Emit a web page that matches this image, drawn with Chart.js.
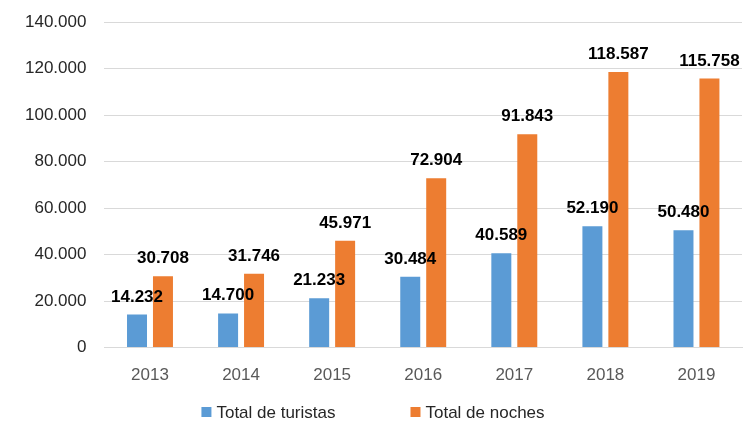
<!DOCTYPE html>
<html>
<head>
<meta charset="utf-8">
<script src="https://cdn.jsdelivr.net/npm/chart.js@4.4.1/dist/chart.umd.min.js"></script>
<style>
  html, body { margin: 0; padding: 0; background: #fff; }
  #wrap { width: 746px; height: 422px; }
</style>
</head>
<body>
<div id="wrap"><canvas id="turismo"></canvas></div>
<script>
var years = ['2013', '2014', '2015', '2016', '2017', '2018', '2019'];
var turistas = [14232, 14700, 21233, 30484, 40589, 52190, 50480];
var noches = [30708, 31746, 45971, 72904, 91843, 118587, 115758];
var seriesNames = ['Total de turistas', 'Total de noches'];
var colores = ['#5B9BD5', '#ED7D31'];

var fuente = '"Liberation Sans", Arial, sans-serif';

function miles(v) {
    return String(Math.round(v)).replace(/\B(?=(\d{3})+(?!\d))/g, '.');
}

// etiquetas encima de cada barra
var etiquetas = {
    id: 'etiquetas',
    afterDatasetsDraw: function(chart) {
        var ctx = chart.ctx;
        ctx.save();
        ctx.font = 'bold 17px ' + fuente;
        ctx.fillStyle = '#000';
        ctx.textAlign = 'center';
        ctx.textBaseline = 'alphabetic';
        chart.data.datasets.forEach(function(ds, i) {
            chart.getDatasetMeta(i).data.forEach(function(bar, j) {
                ctx.fillText(miles(ds.data[j]), bar.x, bar.y - 13);
            });
        });
        ctx.restore();
    }
};

// leyenda abajo, con mas separacion entre series
var leyenda = {
    id: 'leyenda',
    afterDraw: function(chart) {
        var ctx = chart.ctx;
        var gap = 75, caja = 10, sep = 5;
        ctx.save();
        ctx.font = '17px ' + fuente;
        ctx.textBaseline = 'middle';
        ctx.textAlign = 'left';
        var anchos = chart.data.datasets.map(function(ds) {
            return caja + sep + ctx.measureText(ds.label).width;
        });
        var total = anchos.reduce(function(a, b) { return a + b; }, 0) + gap * (anchos.length - 1);
        var x = (chart.width - total) / 2;
        var y = 412;
        chart.data.datasets.forEach(function(ds, i) {
            ctx.fillStyle = ds.backgroundColor;
            ctx.fillRect(x, y - caja / 2, caja, caja);
            ctx.fillStyle = '#262626';
            ctx.fillText(ds.label, x + caja + sep, y + 1);
            x += anchos[i] + gap;
        });
        ctx.restore();
    }
};

var ctx = document.getElementById('turismo');
var grafico = new Chart(ctx, {
    type: 'bar',
    data: {
        labels: years,
        datasets: [{
            label: seriesNames[0],
            data: turistas,
            backgroundColor: colores[0],
            categoryPercentage: 0.57,
            barPercentage: 0.77
        }, {
            label: seriesNames[1],
            data: noches,
            backgroundColor: colores[1],
            categoryPercentage: 0.57,
            barPercentage: 0.77
        }]
    },
    options: {
        responsive: true,
        maintainAspectRatio: false,
        animation: false,
        layout: { padding: { top: 0, right: 4, left: 7, bottom: 18 } },
        plugins: {
            tooltip: { enabled: false },
            legend: { display: false }
        },
        scales: {
            x: {
                grid: { display: false, drawTicks: false },
                border: { color: '#D9D9D9', width: 1 },
                ticks: {
                    padding: 18,
                    color: '#595959',
                    font: { family: fuente, size: 17 }
                }
            },
            y: {
                min: 0,
                max: 140000,
                grid: { color: '#D9D9D9', drawTicks: false },
                border: { display: false },
                ticks: {
                    stepSize: 20000,
                    padding: 18,
                    color: '#262626',
                    font: { family: fuente, size: 17, lineHeight: 0.5 },
                    callback: function(v) { return miles(v); }
                }
            }
        }
    },
    plugins: [etiquetas, leyenda]
});
</script>
</body>
</html>
